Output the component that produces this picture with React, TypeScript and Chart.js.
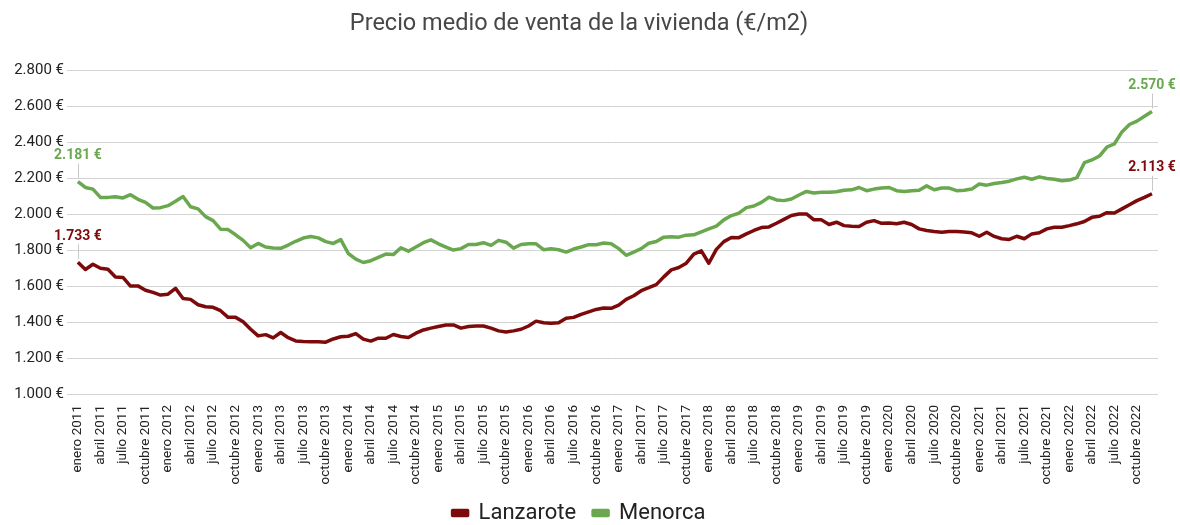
import React, { useEffect, useRef } from "react";
import { Chart, registerables } from "chart.js";

Chart.register(...registerables);

const MONTHS = ["enero", "febrero", "marzo", "abril", "mayo", "junio", "julio", "agosto", "septiembre", "octubre", "noviembre", "diciembre"];
const YEARS = [2011, 2012, 2013, 2014, 2015, 2016, 2017, 2018, 2019, 2020, 2021, 2022];
const CATEGORIES = YEARS.flatMap((y) => MONTHS.map((m) => `${m} ${y}`));

const LANZAROTE = [
  1733, 1692, 1721, 1699, 1693, 1651, 1648, 1600, 1601, 1577, 1565, 1550,
  1555, 1587, 1531, 1526, 1496, 1485, 1482, 1463, 1426, 1426, 1402, 1360,
  1323, 1330, 1312, 1342, 1313, 1295, 1292, 1291, 1290, 1288, 1306, 1318,
  1321, 1336, 1305, 1294, 1310, 1310, 1331, 1320, 1314, 1338, 1356, 1366,
  1375, 1384, 1384, 1366, 1375, 1378, 1378, 1366, 1351, 1345, 1351, 1360,
  1378, 1405, 1396, 1393, 1396, 1421, 1426, 1443, 1457, 1470, 1478, 1476,
  1494, 1526, 1546, 1574, 1591, 1608, 1651, 1690, 1703, 1727, 1778, 1796,
  1727, 1804, 1847, 1870, 1869, 1890, 1909, 1925, 1929, 1949, 1971, 1992,
  2001, 2001, 1968, 1968, 1942, 1955, 1936, 1933, 1931, 1955, 1964, 1949,
  1951, 1946, 1955, 1942, 1918, 1909, 1903, 1899, 1903, 1903, 1901, 1896,
  1877, 1899, 1876, 1863, 1859, 1877, 1863, 1890, 1896, 1918, 1927, 1927,
  1936, 1946, 1959, 1982, 1988, 2008, 2006, 2029, 2052, 2075, 2093, 2113,
];

const MENORCA = [
  2181, 2148, 2139, 2093, 2093, 2097, 2090, 2108, 2082, 2065, 2034, 2036,
  2047, 2071, 2098, 2041, 2029, 1986, 1964, 1916, 1914, 1885, 1854, 1813,
  1837, 1817, 1812, 1810, 1828, 1849, 1867, 1876, 1868, 1847, 1837, 1858,
  1781, 1750, 1731, 1741, 1760, 1778, 1775, 1813, 1794, 1817, 1841, 1857,
  1835, 1817, 1800, 1808, 1831, 1831, 1841, 1826, 1854, 1844, 1811, 1831,
  1835, 1835, 1802, 1808, 1802, 1789, 1806, 1817, 1830, 1830, 1839, 1835,
  1808, 1771, 1789, 1808, 1838, 1848, 1872, 1874, 1872, 1883, 1885, 1901,
  1918, 1933, 1968, 1992, 2005, 2036, 2045, 2065, 2094, 2079, 2075, 2084,
  2106, 2126, 2117, 2121, 2121, 2124, 2133, 2135, 2148, 2130, 2139, 2145,
  2148, 2130, 2126, 2130, 2133, 2157, 2135, 2145, 2145, 2130, 2133, 2139,
  2167, 2161, 2170, 2176, 2183, 2196, 2205, 2194, 2207, 2198, 2194, 2185,
  2189, 2203, 2286, 2301, 2323, 2373, 2391, 2457, 2498, 2517, 2544, 2570,
];

const SERIES_NAMES = ["Lanzarote", "Menorca"];
const SERIES_COLORS = ["#7d0a0a", "#6aa84f"];
const TITLE = "Precio medio de venta de la vivienda (€/m2)";
const Y_MIN = 1000;
const Y_MAX = 2800;
const Y_STEP = 200;
const TICK_EVERY = 3;

const fmt = (v: number) => {
  const s = Math.round(v).toString();
  return s.replace(/\B(?=(\d{3})+(?!\d))/g, ".") + " €";
};

const endLabels = {
  id: "endLabels",
  afterDatasetsDraw(chart: any) {
    const ctx = chart.ctx;
    chart.data.datasets.forEach((ds: any, di: number) => {
      const meta = chart.getDatasetMeta(di);
      const n = ds.data.length;
      [0, n - 1].forEach((idx) => {
        const pt = meta.data[idx];
        if (!pt) return;
        const x = pt.x;
        const y = pt.y;
        ctx.save();
        ctx.strokeStyle = "#c8c8c8";
        ctx.lineWidth = 1;
        ctx.beginPath();
        ctx.moveTo(Math.round(x) + 0.5, y - 18);
        ctx.lineTo(Math.round(x) + 0.5, y - 3);
        ctx.stroke();
        ctx.font = "bold 14px Roboto";
        ctx.fillStyle = ds.borderColor;
        ctx.textAlign = "center";
        ctx.textBaseline = "middle";
        ctx.fillText(fmt(ds.data[idx].y), x, y - 26);
        ctx.restore();
      });
    });
  },
};

export default function App() {
  const ref = useRef<HTMLCanvasElement | null>(null);
  useEffect(() => {
    if (!ref.current) return;
    Chart.defaults.font.family = "Roboto";
    const tickValues = CATEGORIES.map((_, i) => i).filter((i) => i % TICK_EVERY === 0);
    const chart = new Chart(ref.current, {
      type: "line",
      data: {
        datasets: [LANZAROTE, MENORCA].map((arr, k) => ({
          label: SERIES_NAMES[k],
          data: arr.map((y, i) => ({ x: i, y })),
          borderColor: SERIES_COLORS[k],
          backgroundColor: SERIES_COLORS[k],
          borderWidth: 3.5,
          pointRadius: 0,
          tension: 0,
          borderJoinStyle: "round",
        })),
      },
      options: {
        animation: false,
        responsive: true,
        maintainAspectRatio: false,
        layout: { padding: { left: 0, right: 22, top: 0, bottom: -9 } },
        plugins: {
          title: {
            display: true,
            text: TITLE,
            color: "#474747",
            font: { size: 23.5, weight: "normal" },
            padding: { top: 10, bottom: 32 },
          },
          legend: {
            position: "bottom",
            labels: {
              boxWidth: 15,
              boxHeight: 5,
              color: "#222",
              font: { size: 22 },
              padding: 17,
            },
          },
          tooltip: { enabled: false },
        },
        scales: {
          x: {
            type: "linear",
            min: -1.45,
            max: 143.8,
            afterBuildTicks: (scale: any) => {
              scale.ticks = tickValues.map((v) => ({ value: v }));
            },
            ticks: {
              autoSkip: false,
              maxRotation: 90,
              minRotation: 90,
              color: "#222",
              font: { size: 13.5 },
              padding: 3,
              callback: (v: any) => CATEGORIES[v as number],
            },
            afterFit: (scale: any) => {
              scale.height = 91;
            },
            grid: { display: false },
            border: { display: false },
          },
          y: {
            min: Y_MIN,
            max: Y_MAX,
            afterFit: (scale: any) => {
              scale.width = 67;
            },
            ticks: {
              stepSize: Y_STEP,
              color: "#222",
              font: { size: 15 },
              padding: 3,
              callback: (v: any) => fmt(v as number),
            },
            grid: { color: "#d4d4d4", drawTicks: false },
            border: { display: false },
          },
        },
      },
      plugins: [endLabels],
    } as any);
    return () => chart.destroy();
  }, []);
  return (
    <div style={{ position: "fixed", left: 0, top: 0, width: 1180, height: 525, background: "#fff" }}>
      <canvas ref={ref} />
    </div>
  );
}
